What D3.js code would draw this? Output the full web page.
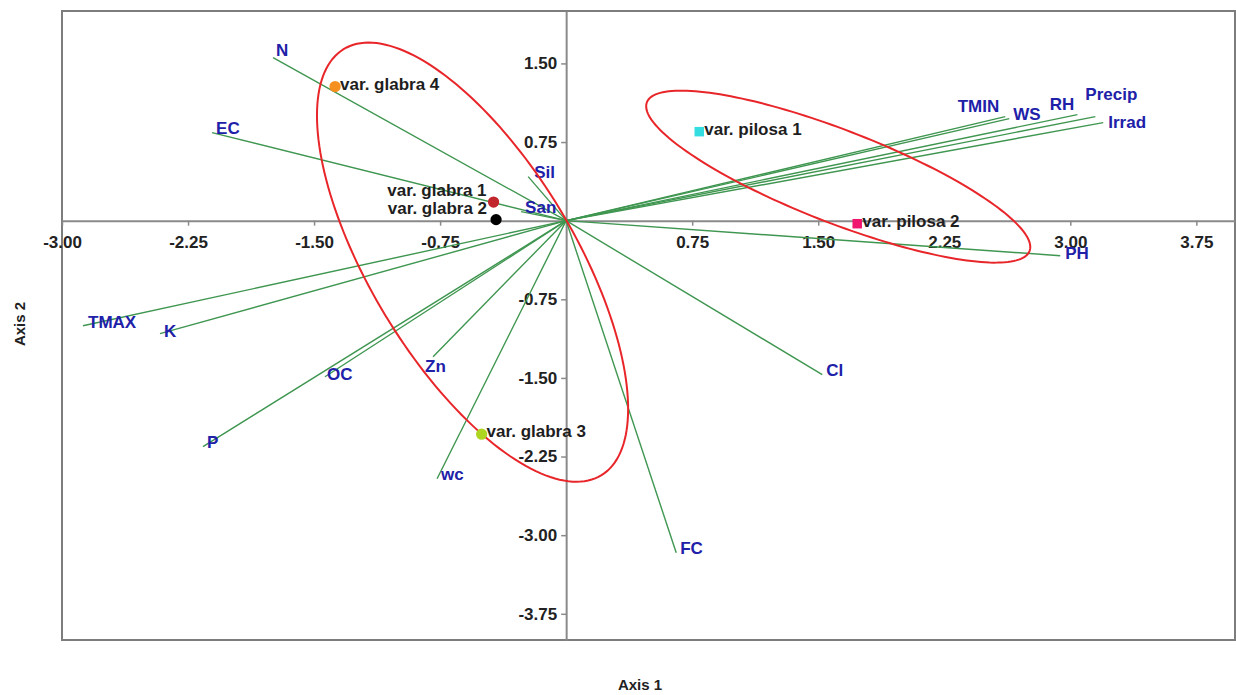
<!DOCTYPE html>
<html>
<head>
<meta charset="utf-8">
<script src="https://cdn.jsdelivr.net/npm/d3@7"></script>
<style>
  body { margin: 0; background: #fff; }
  svg { display: block; font-family: "Liberation Sans", Arial, sans-serif; }
</style>
</head>
<body>
<script>
// biplot values
var varNames = ['N', 'EC', 'Sil', 'San', 'TMIN', 'WS', 'RH', 'Precip', 'Irrad', 'PH', 'Cl', 'FC', 'wc', 'Zn', 'OC', 'P', 'K', 'TMAX'];
var varX = [-1.744, -2.107, -0.226, -0.268, 2.613, 2.637, 3.042, 3.149, 3.196, 2.940, 1.524, 0.655, -0.768, -0.792, -1.435, -2.161, -2.417, -2.875];
var varY = [1.555, 0.840, 0.420, 0.086, 0.992, 0.973, 1.011, 0.992, 0.935, -0.334, -1.469, -3.168, -2.462, -1.298, -1.489, -2.156, -1.078, -1.002];

var obsNames = ['var. glabra 4', 'var. glabra 1', 'var. glabra 2', 'var. glabra 3', 'var. pilosa 1', 'var. pilosa 2'];
var obsX = [-1.375, -0.432, -0.417, -0.503, 0.792, 1.732];
var obsY = [1.279, 0.177, 0.010, -2.037, 0.849, -0.029];

// ellipses: centre and covariance (data units)
var ellCx = [-0.557, 1.619];
var ellCy = [-0.396, 0.420];
var ellSxx = [0.857, 1.306];
var ellSyy = [4.387, 0.673];
var ellSxy = [-1.295, -0.767];

var xTicks = [-3, -2.25, -1.5, -0.75, 0.75, 1.5, 2.25, 3, 3.75];
var yTicks = [1.5, 0.75, -0.75, -1.5, -2.25, -3, -3.75];

var width = 1236;
var height = 695;

var x = d3.scaleLinear().domain([-3, 3.98]).range([62, 1235]);
var y = d3.scaleLinear().domain([-4, 2]).range([640, 11]);

// styles
var obsColor = {
  'var. glabra 4': '#f5901e',
  'var. glabra 1': '#c1272d',
  'var. glabra 2': '#000000',
  'var. glabra 3': '#aed51f',
  'var. pilosa 1': '#33dde0',
  'var. pilosa 2': '#f0156f'
};
var obsSquare = { 'var. pilosa 1': true, 'var. pilosa 2': true };

// label nudges in px: [dx, dy, anchor]
var varNudge = {
  'TMIN': [-6, -5, 'end'],
  'RH': [-3, -5, 'end'],
  'Precip': [-10, -17, 'start'],
  'Irrad': [5, 5, 'start'],
  'Zn': [-8, 15, 'start'],
  'N': [3, -2, 'start'],
  'OC': [2, 3, 'start'],
  'K': [4, 3, 'start'],
  'TMAX': [5, 2, 'start'],
  'Sil': [6, 1, 'start'],
  'PH': [5, 3, 'start']
};
var obsNudge = {
  'var. glabra 1': [-7, -6, 'end'],
  'var. glabra 2': [-9, -6, 'end']
};

function fmt(d) {
  return d.toFixed(2);
}

var svg = d3.select('body').append('svg')
  .attr('width', width)
  .attr('height', height);

// frame
svg.append('rect')
  .attr('x', x(-3))
  .attr('y', y(2))
  .attr('width', x(3.98) - x(-3))
  .attr('height', y(-4) - y(2))
  .attr('fill', 'none')
  .attr('stroke', '#7d7d7d')
  .attr('stroke-width', 2);

// axes through the origin
var xAxis = d3.axisBottom(x)
  .tickValues(xTicks)
  .tickFormat(fmt)
  .tickSize(5)
  .tickSizeOuter(0)
  .tickPadding(10);

var yAxis = d3.axisLeft(y)
  .tickValues(yTicks)
  .tickFormat(fmt)
  .tickSize(5)
  .tickSizeOuter(0)
  .tickPadding(4);

var gx = svg.append('g')
  .attr('transform', 'translate(0,' + y(0) + ')')
  .call(xAxis);

var gy = svg.append('g')
  .attr('transform', 'translate(' + x(0) + ',0)')
  .call(yAxis);

[gx, gy].forEach(function (g) {
  g.select('.domain').attr('stroke', '#8a8a8a').attr('stroke-width', 2);
  g.selectAll('.tick line').attr('stroke', '#8a8a8a').attr('stroke-width', 1.5);
  g.selectAll('.tick text')
    .attr('fill', '#222')
    .style('font-size', '17px')
    .style('font-weight', 'bold');
});

// vectors
var vecs = varNames.map(function (n, i) {
  return { name: n, vx: varX[i], vy: varY[i] };
});

svg.append('g').selectAll('line')
  .data(vecs)
  .enter().append('line')
  .attr('x1', x(0))
  .attr('y1', y(0))
  .attr('x2', function (d) { return x(d.vx); })
  .attr('y2', function (d) { return y(d.vy); })
  .attr('stroke', '#3f9650')
  .attr('stroke-width', 1.4);

svg.append('g').selectAll('text')
  .data(vecs)
  .enter().append('text')
  .attr('x', function (d) {
    var n = varNudge[d.name] || [4, 1];
    return x(d.vx) + n[0];
  })
  .attr('y', function (d) {
    var n = varNudge[d.name] || [4, 1];
    return y(d.vy) + n[1];
  })
  .attr('text-anchor', function (d) {
    var n = varNudge[d.name];
    return n ? n[2] : 'start';
  })
  .attr('fill', '#2020a8')
  .style('font-size', '17px')
  .style('font-weight', 'bold')
  .text(function (d) { return d.name; });

// ellipses
var ellLine = d3.line()
  .x(function (p) { return x(p[0]); })
  .y(function (p) { return y(p[1]); })
  .curve(d3.curveLinearClosed);

ellCx.forEach(function (cx, i) {
  var l11 = Math.sqrt(ellSxx[i]);
  var l21 = ellSxy[i] / l11;
  var l22 = Math.sqrt(ellSyy[i] - l21 * l21);
  var pts = d3.range(0, 2 * Math.PI, Math.PI / 90).map(function (t) {
    var c = Math.cos(t), s = Math.sin(t);
    return [cx + l11 * c, ellCy[i] + l21 * c + l22 * s];
  });
  svg.append('path')
    .attr('d', ellLine(pts))
    .attr('fill', 'none')
    .attr('stroke', '#e8262a')
    .attr('stroke-width', 2);
});

// observations
var obs = obsNames.map(function (n, i) {
  return { name: n, ox: obsX[i], oy: obsY[i] };
});

var gObs = svg.append('g');

gObs.selectAll('.pt')
  .data(obs)
  .enter().append('path')
  .attr('class', 'pt')
  .attr('transform', function (d) { return 'translate(' + x(d.ox) + ',' + y(d.oy) + ')'; })
  .attr('d', function (d) {
    var sym = obsSquare[d.name] ? d3.symbolSquare : d3.symbolCircle;
    return d3.symbol().type(sym).size(obsSquare[d.name] ? 90 : 100)();
  })
  .attr('fill', function (d) { return obsColor[d.name]; });

gObs.selectAll('.lab')
  .data(obs)
  .enter().append('text')
  .attr('class', 'lab')
  .attr('x', function (d) {
    var n = obsNudge[d.name] || [5, 3];
    return x(d.ox) + n[0];
  })
  .attr('y', function (d) {
    var n = obsNudge[d.name] || [5, 3];
    return y(d.oy) + n[1];
  })
  .attr('text-anchor', function (d) {
    var n = obsNudge[d.name];
    return n ? n[2] : 'start';
  })
  .attr('fill', '#1e1e1e')
  .style('font-size', '17px')
  .style('font-weight', 'bold')
  .text(function (d) { return d.name; });

// axis titles
svg.append('text')
  .attr('x', 640)
  .attr('y', 690)
  .attr('text-anchor', 'middle')
  .attr('fill', '#222')
  .style('font-size', '15px')
  .style('font-weight', 'bold')
  .text('Axis 1');

svg.append('text')
  .attr('transform', 'translate(25,324) rotate(-90)')
  .attr('text-anchor', 'middle')
  .attr('fill', '#222')
  .style('font-size', '15px')
  .style('font-weight', 'bold')
  .text('Axis 2');
</script>
</body>
</html>
